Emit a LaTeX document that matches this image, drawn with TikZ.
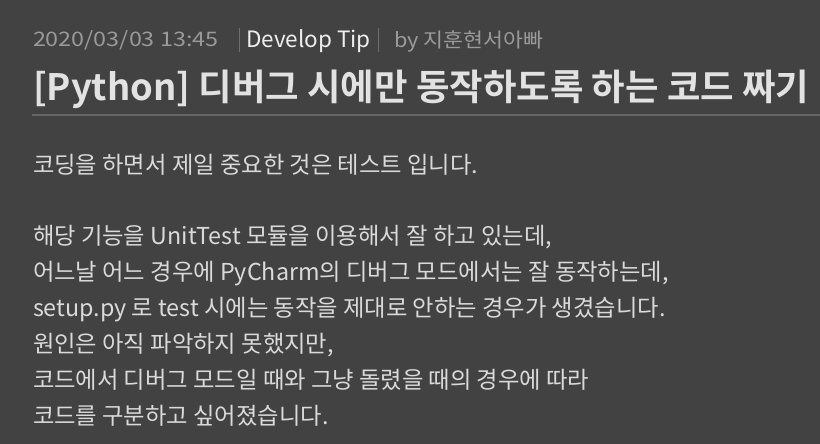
\documentclass[tikz,border=0pt]{standalone}
\usepackage{fontspec}
\setmainfont{Noto Sans CJK KR}
\newfontfamily\krbold{Noto Sans CJK KR Bold}
\definecolor{bgc}{HTML}{424242}
\definecolor{datec}{HTML}{9A9A9A}
\definecolor{catc}{HTML}{EEEEEE}
\definecolor{titlec}{HTML}{E2E2E2}
\definecolor{bodyc}{HTML}{DADADA}
\definecolor{rulec}{HTML}{666666}
\definecolor{sepc}{HTML}{6E6E6E}
\begin{document}
\begin{tikzpicture}[x=1pt,y=1pt,
  txt/.style={anchor=base west,inner sep=0pt,outer sep=0pt},
  meta/.style={txt,text=datec,font=\fontsize{20}{24}\selectfont},
  cat/.style={txt,text=catc,font=\fontsize{22.5}{26}\selectfont},
  ttl/.style={txt,text=titlec,font=\krbold\fontsize{36.4}{42}\selectfont},
  body/.style={txt,text=bodyc,font=\fontsize{23.3}{28}\selectfont},
  sepline/.style={draw=sepc,line width=1pt},
  hrule/.style={draw=rulec,line width=2pt}]
\fill[bgc] (0,0) rectangle (820,-444);
\useasboundingbox (0,0) rectangle (820,-444);
\node[meta] (date) at (33,-47) {\scalebox{1.167}[1]{2020/03/03 13:45}};
\coordinate (s1t) at (239,-28);
\coordinate (s1b) at (239,-52);
\draw[sepline] (s1t) -- (s1b);
\node[cat] (cat) at (246,-48) {Develop Tip};
\coordinate (s2t) at (378,-28);
\coordinate (s2b) at (378,-52);
\draw[sepline] (s2t) -- (s2b);
\node[meta] (by) at (394,-48) {\scalebox{1.085}[1]{by 지훈현서아빠}};
\node[ttl] (title) at (33,-101) {[Python] 디버그 시에만 동작하도록 하는 코드 짜기};
\coordinate (rl) at (32,-115);
\coordinate (rr) at (820,-115);
\draw[hrule] (rl) -- (rr);
\node[body] (l1) at (33,-173) {코딩을 하면서 제일 중요한 것은 테스트 입니다.};
\node[body] (l2) at (33,-244) {해당 기능을 UnitTest 모듈을 이용해서 잘 하고 있는데,};
\node[body] (l3) at (33,-280) {어느날 어느 경우에 PyCharm의 디버그 모드에서는 잘 동작하는데,};
\node[body] (l4) at (33,-316) {setup.py 로 test 시에는 동작을 제대로 안하는 경우가 생겼습니다.};
\node[body] (l5) at (33,-352) {원인은 아직 파악하지 못했지만,};
\node[body] (l6) at (33,-388) {코드에서 디버그 모드일 때와 그냥 돌렸을 때의 경우에 따라};
\node[body] (l7) at (33,-424) {코드를 구분하고 싶어졌습니다.};
\end{tikzpicture}
\end{document}
